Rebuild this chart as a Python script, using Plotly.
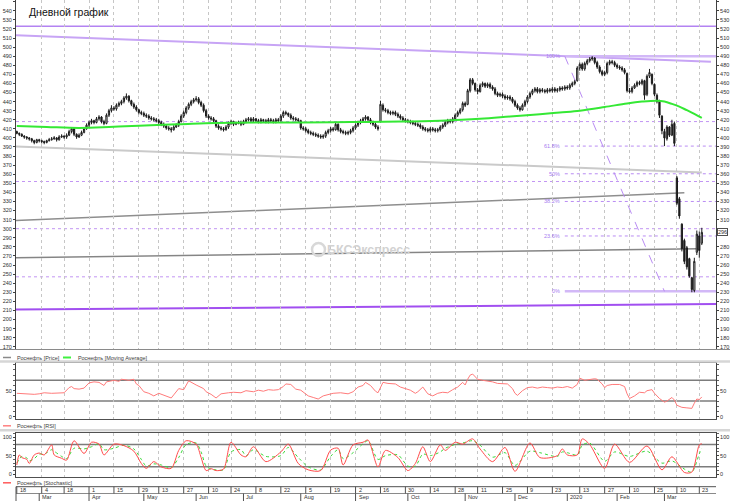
import pandas as pd
import plotly.graph_objects as go

# ---------------- data ----------------
holidays = ["2019-03-08", "2019-05-01", "2019-05-09", "2019-06-12", "2019-11-04",
            "2019-12-31", "2020-01-01", "2020-01-02", "2020-01-07", "2020-02-24", "2020-03-09"]
days = [d for d in pd.bdate_range("2019-02-18", "2020-03-24").strftime("%Y-%m-%d") if d not in holidays]

opens = [
    407, 405, 404, 402, 401, 400, 399, 397, 395, 398,
    397, 396, 395, 397, 398, 399, 400, 398, 401, 402,
    401, 403, 407, 410, 404, 401, 403, 406, 410, 414,
    417, 419, 417, 421, 423, 418, 416, 425, 430, 433,
    432, 436, 438, 440, 444, 446, 441, 437, 434, 431,
    428, 427, 425, 424, 422, 421, 420, 419, 417, 415,
    413, 411, 410, 409, 412, 414, 418, 424, 428, 433,
    437, 440, 442, 443, 439, 436, 430, 424, 422, 421,
    419, 413, 411, 410, 409, 412, 416, 418, 415, 416,
    417, 415, 418, 420, 421, 419, 421, 419, 418, 420,
    419, 418, 420, 419, 418, 420, 419, 424, 428, 427,
    425, 422, 421, 420, 419, 411, 410, 408, 406, 405,
    404, 403, 402, 401, 402, 406, 408, 410, 409, 415,
    409, 407, 406, 405, 406, 408, 411, 414, 417, 419,
    421, 423, 420, 417, 415, 412, 418, 436, 431, 430,
    428, 427, 428, 426, 424, 422, 420, 419, 418, 417,
    416, 415, 414, 412, 410, 409, 408, 410, 409, 408,
    409, 412, 414, 417, 419, 418, 421, 425, 428, 431,
    438, 437, 452, 464, 460, 453, 451, 458, 460, 457,
    459, 456, 454, 449, 447, 448, 446, 444, 445, 443,
    440, 436, 433, 431, 436, 440, 445, 449, 452, 454,
    451, 453, 452, 451, 453, 452, 454, 452, 453, 455,
    454, 456, 455, 458, 460, 463, 477, 481, 476, 482,
    485, 487, 488, 483, 478, 473, 470, 472, 482, 484,
    483, 480, 478, 477, 475, 471, 452, 451, 455, 458,
    461, 460, 463, 448, 468, 470, 459, 447, 440, 424,
    407, 399, 412, 403, 416, 356, 333, 305, 287, 279,
    267, 246, 232, 274, 292, 284]
highs = [
    408, 406, 405, 403, 402, 401, 400, 398, 399, 399,
    398, 397, 398, 400, 401, 402, 401, 403, 404, 403,
    405, 409, 412, 411, 405, 405, 408, 412, 416, 419,
    421, 420, 423, 425, 424, 420, 427, 432, 436, 435,
    438, 440, 442, 446, 449, 447, 442, 439, 436, 432,
    430, 429, 427, 426, 424, 423, 422, 421, 419, 417,
    415, 413, 412, 414, 416, 420, 426, 430, 435, 439,
    442, 444, 446, 445, 441, 438, 432, 426, 424, 423,
    420, 415, 413, 412, 414, 418, 420, 419, 418, 419,
    419, 420, 422, 423, 423, 423, 422, 421, 422, 421,
    421, 422, 422, 421, 422, 422, 426, 430, 430, 428,
    427, 424, 423, 422, 420, 413, 412, 410, 408, 407,
    406, 405, 404, 404, 408, 410, 412, 412, 417, 416,
    411, 409, 408, 408, 410, 413, 416, 419, 421, 423,
    425, 424, 422, 419, 417, 414, 441, 438, 433, 432,
    430, 430, 430, 428, 426, 424, 422, 421, 420, 419,
    418, 417, 416, 414, 412, 411, 412, 412, 411, 411,
    414, 416, 419, 421, 421, 423, 427, 430, 433, 440,
    440, 454, 466, 466, 461, 455, 460, 462, 461, 461,
    461, 458, 456, 451, 450, 450, 448, 447, 447, 445,
    442, 438, 435, 438, 442, 447, 451, 454, 456, 456,
    455, 455, 454, 455, 455, 456, 456, 455, 457, 457,
    458, 458, 460, 462, 464, 479, 483, 483, 484, 487,
    489, 490, 489, 485, 480, 475, 474, 484, 486, 486,
    485, 482, 480, 479, 477, 472, 455, 457, 460, 463,
    463, 465, 464, 470, 476, 471, 460, 449, 442, 425,
    410, 414, 413, 420, 418, 358, 335, 306, 289, 281,
    268, 247, 268, 298, 297, 301]
lows = [
    404, 402, 401, 399, 398, 397, 395, 393, 394, 395,
    394, 393, 394, 396, 397, 398, 396, 397, 400, 399,
    399, 402, 405, 402, 399, 400, 402, 405, 409, 412,
    415, 415, 416, 419, 416, 414, 415, 423, 428, 430,
    430, 434, 436, 438, 442, 439, 435, 432, 429, 426,
    425, 423, 422, 420, 419, 418, 417, 415, 413, 411,
    409, 408, 406, 408, 411, 412, 417, 422, 426, 431,
    435, 438, 440, 437, 434, 428, 422, 420, 419, 417,
    411, 409, 408, 407, 408, 410, 414, 413, 414, 415,
    413, 414, 416, 418, 417, 417, 417, 416, 416, 417,
    416, 416, 417, 416, 416, 417, 418, 422, 425, 423,
    420, 419, 418, 417, 409, 408, 406, 404, 403, 402,
    401, 400, 399, 399, 400, 404, 406, 407, 408, 407,
    405, 404, 403, 403, 404, 406, 409, 412, 415, 417,
    419, 418, 415, 413, 410, 408, 417, 429, 428, 426,
    425, 425, 424, 422, 420, 418, 417, 416, 415, 414,
    413, 412, 410, 408, 407, 406, 406, 407, 406, 406,
    407, 410, 412, 415, 416, 416, 419, 423, 426, 429,
    434, 436, 450, 458, 451, 448, 450, 456, 455, 455,
    454, 452, 447, 445, 445, 444, 442, 442, 441, 438,
    434, 431, 429, 430, 434, 438, 443, 447, 450, 449,
    449, 450, 449, 449, 450, 450, 450, 450, 451, 452,
    452, 453, 453, 456, 458, 462, 474, 474, 474, 480,
    483, 485, 481, 476, 471, 468, 468, 470, 480, 481,
    478, 476, 475, 473, 470, 450, 449, 449, 454, 456,
    458, 458, 442, 446, 466, 458, 446, 438, 422, 404,
    391, 397, 401, 402, 391, 326, 311, 275, 261, 255,
    246, 230, 230, 271, 268, 282]
closes = [
    405, 404, 402, 401, 400, 399, 397, 395, 398, 397,
    396, 395, 397, 398, 399, 400, 398, 401, 402, 401,
    403, 407, 410, 404, 401, 403, 406, 410, 414, 417,
    419, 417, 421, 423, 418, 416, 425, 430, 433, 432,
    436, 438, 440, 444, 446, 441, 437, 434, 431, 428,
    427, 425, 424, 422, 421, 420, 419, 417, 415, 413,
    411, 410, 409, 412, 414, 418, 424, 428, 433, 437,
    440, 442, 443, 439, 436, 430, 424, 422, 421, 419,
    413, 411, 410, 409, 412, 416, 418, 415, 416, 417,
    415, 418, 420, 421, 419, 421, 419, 418, 420, 419,
    418, 420, 419, 418, 420, 419, 424, 428, 427, 425,
    422, 421, 420, 419, 411, 410, 408, 406, 405, 404,
    403, 402, 401, 402, 406, 408, 410, 409, 415, 409,
    407, 406, 405, 406, 408, 411, 414, 417, 419, 421,
    423, 420, 417, 415, 412, 410, 437, 431, 430, 428,
    427, 428, 426, 424, 422, 420, 419, 418, 417, 416,
    415, 414, 412, 410, 409, 408, 410, 409, 408, 409,
    412, 414, 417, 419, 418, 421, 425, 428, 431, 438,
    436, 452, 464, 460, 453, 451, 458, 460, 457, 459,
    456, 454, 449, 447, 448, 446, 444, 445, 443, 440,
    436, 433, 431, 436, 440, 445, 449, 452, 454, 451,
    453, 452, 451, 453, 452, 454, 452, 453, 455, 454,
    456, 455, 458, 460, 462, 477, 481, 476, 482, 485,
    487, 488, 483, 478, 473, 470, 472, 482, 484, 483,
    480, 478, 477, 475, 472, 452, 451, 455, 458, 461,
    460, 463, 447, 468, 472, 460, 448, 440, 425, 408,
    400, 412, 403, 415, 394, 328, 314, 278, 264, 258,
    248, 233, 264, 294, 276, 296]

# moving average (day index in `days`, value)
ma_idx = [0, 12, 25, 37, 49, 65, 80, 97, 114, 134, 154, 170, 186, 198, 210, 218, 226, 236,
          245, 251, 257, 260, 263, 266, 269, 272, 275]
ma_val = [413, 412, 411, 412, 413.5, 415, 416.5, 417, 417, 417.5, 418, 419, 421, 423.5, 426,
          428, 430, 434, 438, 440, 441, 440, 437.5, 434.5, 430.5, 426.5, 422]

rsi_idx = [0, 3, 7, 9, 11, 14, 17, 19, 21, 22,
           23, 25, 27, 29, 31, 33, 35, 36, 39, 41,
           42, 45, 47, 48, 49, 51, 53, 55, 57, 59,
           62, 63, 65, 67, 68, 69, 72, 74, 75, 76,
           78, 80, 82, 85, 87, 90, 92, 95, 97, 99,
           101, 103, 105, 107, 108, 110, 112, 114, 115, 117,
           119, 121, 123, 125, 127, 130, 133, 135, 137, 139,
           140, 142, 144, 145, 147, 149, 152, 154, 156, 158,
           160, 161, 163, 165, 167, 169, 171, 173, 175, 177,
           179, 180, 181, 182, 183, 185, 187, 189, 191, 193,
           195, 197, 199, 200, 201, 203, 205, 207, 209, 211,
           213, 215, 217, 219, 221, 223, 225, 226, 228, 230,
           232, 233, 235, 236, 237, 239, 242, 244, 245, 246,
           248, 250, 252, 253, 255, 256, 258, 260, 261, 263,
           264, 265, 267, 269, 271, 272, 273, 274, 275]
rsi_val = [45, 44, 43, 44, 46, 45, 45, 46, 56, 58,
           54, 53, 55, 65, 67, 66, 60, 67, 70, 68,
           72, 70, 72, 63, 60, 48, 45, 40, 45, 41,
           36, 42, 54, 52, 62, 69, 61, 57, 54, 48,
           43, 36, 44, 46, 47, 46, 50, 48, 51, 49,
           52, 51, 52, 58, 63, 62, 53, 51, 47, 40,
           37, 34, 40, 42, 45, 46, 44, 48, 57, 60,
           66, 60, 49, 46, 66, 64, 63, 57, 54, 51,
           45, 48, 57, 44, 40, 45, 47, 46, 52, 57,
           66, 61, 72, 80, 82, 72, 70, 69, 67, 64,
           63, 63, 54, 45, 41, 50, 56, 57, 55, 57,
           56, 55, 57, 56, 58, 55, 62, 74, 70, 71,
           73, 72, 63, 56, 60, 62, 62, 58, 44, 35,
           40, 47, 46, 50, 52, 45, 35, 28, 30, 37,
           32, 22, 18, 17, 16, 26, 34, 33, 38]

stoch_idx = [0, 1, 2, 4, 5, 7, 9, 11, 14, 15,
             18, 20, 23, 27, 30, 33, 35, 39, 43, 47,
             50, 52, 55, 58, 62, 65, 68, 72, 74, 76,
             78, 80, 83, 86, 90, 92, 95, 100, 106, 109,
             113, 117, 122, 126, 129, 131, 135, 139, 141, 145,
             148, 153, 157, 160, 163, 166, 170, 172, 176, 179,
             183, 186, 191, 196, 200, 206, 210, 217, 219, 221,
             225, 227, 230, 236, 240, 246, 253, 259, 263, 268,
             271, 274, 275]
stoch_k = [25, 52, 45, 40, 29, 52, 57, 52, 79, 52,
           43, 38, 90, 56, 86, 81, 52, 81, 77, 62,
           29, 16, 34, 20, 16, 64, 90, 81, 45, 10,
           15, 10, 14, 86, 52, 47, 74, 34, 60, 81,
           29, 12, 10, 65, 70, 25, 79, 86, 92, 20,
           64, 45, 10, 29, 74, 34, 79, 64, 86, 81,
           95, 68, 34, 72, 8, 84, 45, 50, 68, 52,
           52, 95, 80, 16, 81, 32, 76, 12, 47, 5,
           6, 79, 82]
stoch_d = [30, 40, 48, 44, 36, 42, 54, 54, 66, 62,
           48, 42, 70, 68, 74, 82, 66, 70, 78, 68,
           40, 22, 28, 25, 18, 45, 80, 84, 60, 22,
           14, 12, 12, 60, 66, 50, 66, 48, 50, 72,
           45, 20, 12, 48, 66, 42, 58, 82, 90, 40,
           50, 52, 22, 22, 54, 50, 60, 70, 80, 84,
           90, 78, 46, 58, 24, 62, 58, 48, 60, 58,
           52, 78, 84, 35, 60, 48, 62, 30, 36, 14,
           6, 55, 70]

tick_dates = ["2019-02-18", "2019-03-04", "2019-03-18", "2019-04-01", "2019-04-15", "2019-04-29",
              "2019-05-13", "2019-05-27", "2019-06-10", "2019-06-24", "2019-07-08", "2019-07-22",
              "2019-08-05", "2019-08-19", "2019-09-02", "2019-09-16", "2019-09-30", "2019-10-14",
              "2019-10-28", "2019-11-11", "2019-11-25", "2019-12-09", "2019-12-23", "2020-01-13",
              "2020-01-27", "2020-02-10", "2020-02-25", "2020-03-10", "2020-03-23"]
tick_labels = ["18", "4", "18", "1", "15", "29", "13", "27", "10", "24", "8", "22", "5", "19", "2",
               "16", "30", "14", "28", "11", "25", "9", "23", "13", "27", "10", "25", "10", "23"]
month_dates = ["2019-03-01", "2019-04-01", "2019-05-02", "2019-06-03", "2019-07-01", "2019-08-01",
               "2019-09-02", "2019-10-01", "2019-11-01", "2019-12-02", "2020-01-03", "2020-02-03",
               "2020-03-02"]
month_labels = ["Mar", "Apr", "May", "Jun", "Jul", "Aug", "Sep", "Oct", "Nov", "Dec", "2020", "Feb", "Mar"]

price_ticks = list(range(170, 551, 10))
x_start = "2019-02-15 16:20"
x_end = "2020-03-31 16:48"

resist_level = 523
channel_top = [x_start, 513, "2020-03-27 16:00", 484]
channel_light = [x_start, 390.5, "2020-03-24", 362]
channel_upper = [x_start, 309, "2020-03-13", 339.5]
channel_lower = [x_start, 268, "2020-03-20 12:00", 278]
support_line = [x_start, 211, x_end, 217]
level_lines = [418, 352, 300, 247]
fib_start = "2019-12-30"
fib_labels = ["100%", "61.8%", "50%", "38.2%", "23.6%", "0%"]
fib_values = [490, 391, 360.5, 330, 292, 231]
fib_diag = ["2019-12-30", 490, "2020-03-02", 231]
last_price = 296

# ---------------- helpers (pixel -> paper) ----------------
W, H = 730, 501
L, R = 16, 716


def PX(px):
    return (px - L) / (R - L)


def PY(py):
    return 1 - py / H


FONT = "Liberation Sans"

fig = go.Figure()

fig.add_trace(go.Candlestick(
    x=days, open=opens, high=highs, low=lows, close=closes, xaxis="x", yaxis="y",
    increasing=dict(line=dict(color="#1c1c1c", width=1), fillcolor="#ffffff"),
    decreasing=dict(line=dict(color="#1c1c1c", width=1), fillcolor="#1c1c1c"),
    whiskerwidth=0, hoverinfo="skip", showlegend=False))
fig.add_trace(go.Scatter(
    x=[days[i] for i in ma_idx], y=ma_val, mode="lines", xaxis="x", yaxis="y",
    line=dict(color="#35e835", width=2, shape="spline"), hoverinfo="skip", showlegend=False))
fig.add_trace(go.Scatter(x=[days[-1]], y=[closes[-1]], xaxis="x", yaxis="y4", mode="markers",
                         marker=dict(opacity=0), hoverinfo="skip", showlegend=False))

fig.add_trace(go.Scatter(
    x=[days[i] for i in rsi_idx], y=rsi_val, mode="lines", xaxis="x2", yaxis="y2",
    line=dict(color="#ff7a7a", width=1), hoverinfo="skip", showlegend=False))
fig.add_trace(go.Scatter(x=[days[-1]], y=[rsi_val[-1]], xaxis="x2", yaxis="y5", mode="markers",
                         marker=dict(opacity=0), hoverinfo="skip", showlegend=False))

fig.add_trace(go.Scatter(
    x=[days[i] for i in stoch_idx], y=stoch_d, mode="lines", xaxis="x3", yaxis="y3",
    line=dict(color="#3ad83a", width=1, dash="dot", shape="spline", smoothing=0.8),
    hoverinfo="skip", showlegend=False))
fig.add_trace(go.Scatter(
    x=[days[i] for i in stoch_idx], y=stoch_k, mode="lines", xaxis="x3", yaxis="y3",
    line=dict(color="#ff4a4a", width=1, shape="spline", smoothing=0.8),
    hoverinfo="skip", showlegend=False))
fig.add_trace(go.Scatter(x=[days[-1]], y=[stoch_k[-1]], xaxis="x3", yaxis="y6", mode="markers",
                         marker=dict(opacity=0), hoverinfo="skip", showlegend=False))

rb = [dict(bounds=["sat", "mon"]), dict(values=holidays)]
common_x = dict(type="date", range=[x_start, x_end], rangebreaks=rb, tickmode="array",
                tickvals=tick_dates, showticklabels=False, showgrid=True, gridcolor="#c6c6c6",
                griddash="dot", gridwidth=1, ticks="", zeroline=False, fixedrange=True)
tickfont = dict(family=FONT, size=5.5, color="#303030")
main_y = dict(range=[167.5, 551.9], ticks="outside",
              ticklen=2, tickcolor="#404040", showline=True, linecolor="#404040",
              showgrid=False, zeroline=False, tickfont=tickfont, fixedrange=True)
rsi_y = dict(range=[-5, 102.7], tickmode="array", tickvals=[0, 50], ticks="outside", ticklen=2,
             tickcolor="#404040", showline=True, linecolor="#404040", showgrid=False,
             zeroline=False, tickfont=tickfont, fixedrange=True,
             minor=dict(tickmode="linear", tick0=0, dtick=10, ticks="outside", ticklen=2,
                        tickcolor="#606060"))
st_y = dict(range=[-8, 110], tickmode="array", tickvals=[0, 50, 100], ticks="outside", ticklen=2,
            tickcolor="#404040", showline=True, linecolor="#404040", showgrid=False,
            zeroline=False, tickfont=tickfont, fixedrange=True,
            minor=dict(tickmode="linear", tick0=0, dtick=10, ticks="outside", ticklen=2,
                       tickcolor="#606060"))

dom_main = [PY(349), 1]
dom_rsi = [PY(419.3), PY(363.3)]
dom_st = [PY(477.3), PY(433.3)]

right_ticks = [v for v in price_ticks if abs(v - last_price) > 6]

fig.update_layout(
    width=W, height=H, margin=dict(l=L, r=W - R, t=0, b=0),
    paper_bgcolor="white", plot_bgcolor="rgba(0,0,0,0)", showlegend=False,
    font=dict(family=FONT, size=6, color="#303030"),
    xaxis=dict(**common_x, domain=[0, 1], anchor="y", rangeslider=dict(visible=False),
               showline=False),
    xaxis2=dict(**common_x, domain=[0, 1], anchor="y2", showline=True, mirror=True,
                linecolor="#505050"),
    xaxis3=dict(**common_x, domain=[0, 1], anchor="y3", showline=True, mirror=True,
                linecolor="#505050"),
    yaxis=dict(**main_y, tickmode="array", tickvals=price_ticks, domain=dom_main, anchor="x",
               side="left"),
    yaxis4=dict(**main_y, tickmode="array", tickvals=right_ticks, overlaying="y", anchor="x",
                side="right"),
    yaxis2=dict(**rsi_y, domain=dom_rsi, anchor="x2", side="left"),
    yaxis5=dict(**rsi_y, overlaying="y2", anchor="x2", side="right"),
    yaxis3=dict(**st_y, domain=dom_st, anchor="x3", side="left"),
    yaxis6=dict(**st_y, overlaying="y3", anchor="x3", side="right"),
)

shapes = []


def seg(x0, y0, x1, y1, color, width, dash="solid", xref="x", yref="y"):
    layer = "above" if xref == "paper" or yref == "paper" else "below"
    shapes.append(dict(type="line", x0=x0, y0=y0, x1=x1, y1=y1, xref=xref, yref=yref,
                       line=dict(color=color, width=width, dash=dash), layer=layer))


# main panel lines
seg(0, resist_level, 1, resist_level, "#b383f2", 1.5, xref="x domain")
seg(*channel_top, "#c7a4f5", 2)
seg(*channel_light, "#cacaca", 2)
seg(*channel_upper, "#8e8e8e", 1.5)
seg(*channel_lower, "#858585", 1.5)
seg(*support_line, "#a14ff0", 2)
for lv in level_lines:
    seg(0, lv, 1, lv, "#c295f3", 1, dash="dot", xref="x domain")
for lab, val in zip(fib_labels, fib_values):
    if lab in ("100%", "0%"):
        seg(fib_start, val, x_end, val, "#d2b8f7", 2.5)
    else:
        seg(fib_start, val, x_end, val, "#b98cf3", 1, dash="dot")
seg(*fib_diag, "#b98cf3", 1, dash="dash")

# indicator levels
for lv in (70, 30):
    seg(0, lv, 1, lv, "#7c7c7c", 1.5, xref="x2 domain", yref="y2")
for lv in (80, 20):
    seg(0, lv, 1, lv, "#7c7c7c", 1.5, xref="x3 domain", yref="y3")

# panel separators and frames
seg(PX(0), PY(349.5), PX(730), PY(349.5), "#8a8a8a", 1, xref="paper", yref="paper")
seg(PX(0), PY(361.5), PX(730), PY(361.5), "#d6d6d6", 2.5, xref="paper", yref="paper")
seg(PX(0), PY(430.2), PX(730), PY(430.2), "#d6d6d6", 2.5, xref="paper", yref="paper")

# date axis
seg(0, PY(486.7), 1, PY(486.7), "#505050", 1, xref="paper", yref="paper")
seg(0, PY(493.5), 1, PY(493.5), "#8a8a8a", 1, xref="paper", yref="paper")
seg(0, PY(486.7), 0, PY(501), "#505050", 1, xref="paper", yref="paper")
for d in tick_dates:
    seg(d, PY(486.7), d, PY(493.5), "#505050", 1, xref="x3", yref="paper")
for d in month_dates:
    seg(d, PY(493.5), d, PY(501), "#505050", 1, xref="x3", yref="paper")

# legend icons
seg(PX(3), PY(357.5), PX(11), PY(357.5), "#8a8a8a", 1.5, xref="paper", yref="paper")
seg(PX(63), PY(357.5), PX(71), PY(357.5), "#40f040", 2, xref="paper", yref="paper")
seg(PX(3), PY(425.8), PX(11), PY(425.8), "#ff8080", 1.5, xref="paper", yref="paper")
seg(PX(3), PY(482.8), PX(11), PY(482.8), "#ff5a5a", 1.5, xref="paper", yref="paper")

# watermark logo ring
shapes.append(dict(type="circle", xref="paper", yref="paper", x0=PX(312), x1=PX(325),
                   y0=PY(256), y1=PY(243), line=dict(color="#d8d8d8", width=2.5),
                   layer="above"))

fig.update_layout(shapes=shapes)

ann = []


def text(x, y, s, size=6, color="#303030", xanchor="left", xref="paper", yref="paper",
         xshift=0, **kw):
    ann.append(dict(x=x, y=y, text=s, xref=xref, yref=yref, xanchor=xanchor, yanchor="middle",
                    showarrow=False, xshift=xshift,
                    font=dict(family=FONT, size=size, color=color), **kw))


text(PX(27), PY(12), "Дневной график", size=10.5, color="#111111")
text(PX(368), PY(250), "<b>БКСЭкспресс</b>", size=12.5, color="#d2d2d2", xanchor="center")
text(PX(15), PY(357.5), "Роснефть [Price]", size=5.5, color="#404040")
text(PX(76), PY(357.5), "Роснефть [Moving Average]", size=5.5, color="#404040")
text(PX(15), PY(425.8), "Роснефть [RSI]", size=5.5, color="#404040")
text(PX(15), PY(482.8), "Роснефть [Stochastic]", size=5.5, color="#404040")

for lab, val in zip(fib_labels, fib_values):
    text(fib_start, val, lab, size=5.5, color="#a77cf0", xanchor="right", xref="x", yref="y",
         xshift=-3)

text(1, last_price, str(last_price), size=5.5, color="#303030", xanchor="left", yref="y",
     xshift=1, bgcolor="white", bordercolor="#505050", borderwidth=1, borderpad=0)

for d, lab in zip(tick_dates, tick_labels):
    text(d, PY(490.2), lab, size=5.5, xref="x3", xshift=1)
for d, lab in zip(month_dates, month_labels):
    text(d, PY(497.4), lab, size=5.5, xref="x3", xshift=1)

fig.update_layout(annotations=ann)

fig.write_html("out.html", config={"displayModeBar": False},
               post_script="document.body.style.margin='0px';")
